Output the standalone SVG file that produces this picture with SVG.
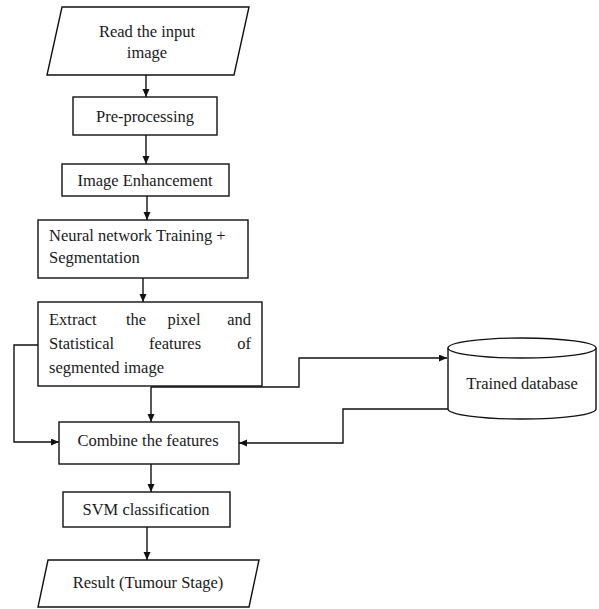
<svg xmlns="http://www.w3.org/2000/svg" width="599" height="609" viewBox="0 0 599 609">
<style>
.shape{fill:#fff;stroke:#111;stroke-width:1.4}
.t{font-family:"Liberation Serif","Times New Roman",serif;font-size:16.5px;fill:#1a1a1a}
.c{text-anchor:middle}
.e{text-anchor:end}
.line{fill:none;stroke:#111;stroke-width:1.4}
</style>
<defs>
<marker id="arr" markerUnits="userSpaceOnUse" markerWidth="9" markerHeight="8" refX="8" refY="3.5" orient="auto">
<path d="M0,0 L8,3.5 L0,7 z" fill="#111"/>
</marker>
</defs>
<rect width="599" height="609" fill="#fff"/>
<g id="connectors">
<line class="line" x1="146" y1="75" x2="146" y2="97" marker-end="url(#arr)"/>
<line class="line" x1="146" y1="135" x2="146" y2="164" marker-end="url(#arr)"/>
<line class="line" x1="147" y1="196" x2="147" y2="220" marker-end="url(#arr)"/>
<line class="line" x1="143" y1="278" x2="143" y2="302" marker-end="url(#arr)"/>
<line class="line" x1="151" y1="387" x2="151" y2="422" marker-end="url(#arr)"/>
<polyline class="line" points="151,387 299,387 299,358 447,358" marker-end="url(#arr)"/>
<polyline class="line" points="38,345 14,345 14,442 59,442" marker-end="url(#arr)"/>
<polyline class="line" points="448,409 343,409 343,443 239,443" marker-end="url(#arr)"/>
<line class="line" x1="151" y1="464" x2="151" y2="492" marker-end="url(#arr)"/>
<line class="line" x1="147" y1="527" x2="147" y2="560" marker-end="url(#arr)"/>
</g>
<g id="read">
<polygon class="shape" points="62,7 249,7 234,75 47,75"/>
<text class="t c" x="147" y="37">Read the input</text>
<text class="t c" x="147" y="58">image</text>
</g>
<g id="preprocessing">
<rect class="shape" x="73" y="97" width="144" height="38"/>
<text class="t c" x="145" y="122">Pre-processing</text>
</g>
<g id="enhancement">
<rect class="shape" x="62" y="164" width="167" height="32"/>
<text class="t c" x="145" y="186">Image Enhancement</text>
</g>
<g id="neural">
<rect class="shape" x="38" y="220" width="210" height="58"/>
<text class="t" x="49" y="241">Neural network Training +</text>
<text class="t" x="49" y="263">Segmentation</text>
</g>
<g id="extract">
<rect class="shape" x="38" y="302" width="224" height="84"/>
<text class="t" x="49" y="325">Extract</text>
<text class="t c" x="136" y="325">the</text>
<text class="t c" x="184" y="325">pixel</text>
<text class="t e" x="251" y="325">and</text>
<text class="t" x="49" y="349">Statistical</text>
<text class="t c" x="175" y="349">features</text>
<text class="t e" x="251" y="349">of</text>
<text class="t" x="49" y="373">segmented image</text>
</g>
<g id="database">
<path class="shape" d="M448,348 L448,409 A74,10 0 0 0 596,409 L596,348"/>
<ellipse class="shape" cx="522" cy="348" rx="74" ry="10"/>
<text class="t c" x="522" y="389">Trained database</text>
</g>
<g id="combine">
<rect class="shape" x="59" y="422" width="180" height="42"/>
<text class="t c" x="148" y="446">Combine the features</text>
</g>
<g id="svm">
<rect class="shape" x="63" y="492" width="167" height="35"/>
<text class="t c" x="146" y="515">SVM classification</text>
</g>
<g id="result">
<polygon class="shape" points="48,560 259,560 249,607 38,607"/>
<text class="t c" x="148" y="588">Result (Tumour Stage)</text>
</g>
</svg>
